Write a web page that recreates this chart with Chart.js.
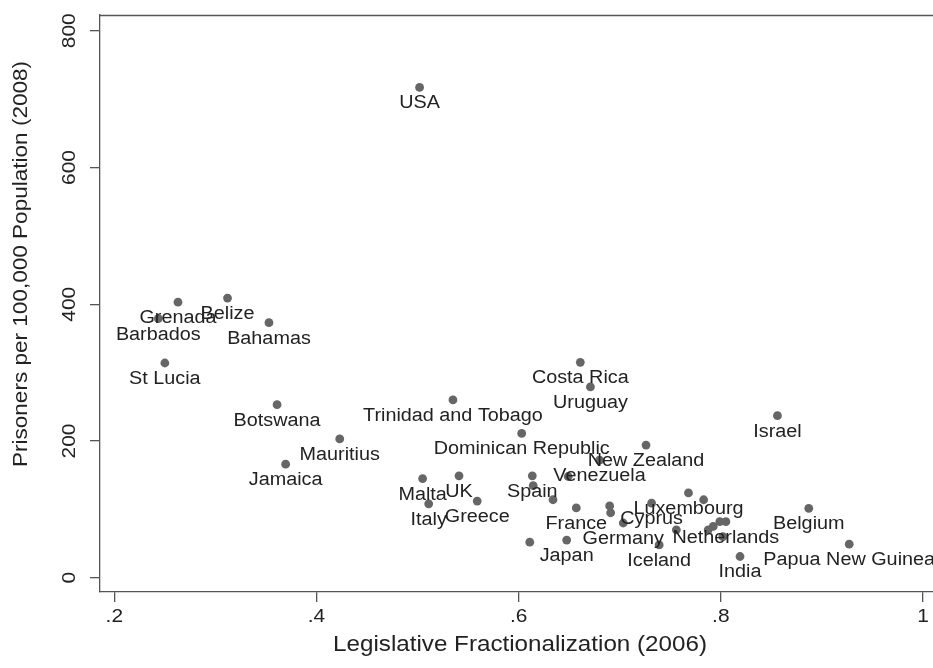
<!DOCTYPE html>
<html>
<head>
<meta charset="utf-8">
<script src="https://cdn.jsdelivr.net/npm/chart.js@4.4.1/dist/chart.umd.min.js"></script>
<style>
  html, body { margin: 0; padding: 0; background: #ffffff; }
  #wrap { width: 933px; height: 668px; }
</style>
</head>
<body>
<div id="wrap"><canvas id="chart" width="933" height="668"></canvas></div>
<script>
// Country names (empty string = plotted without a label)
const countries = [
  'USA', 'Grenada', 'Barbados', 'Belize', 'Bahamas', 'St Lucia', 'Botswana',
  'Mauritius', 'Jamaica', 'Trinidad and Tobago', 'Dominican Republic', 'Malta',
  'UK', 'Italy', 'Greece', 'Spain', 'Costa Rica', 'Uruguay', 'New Zealand',
  'Venezuela', 'France', 'Cyprus', 'Luxembourg', 'Germany', 'Netherlands',
  'Japan', 'Iceland', 'India', 'Israel', 'Belgium', 'Papua New Guinea',
  '', '', '', '', '', '', '', '', '', '', '', ''
];

// Legislative fractionalization, 2006
const fractionalization = [
  0.502, 0.263, 0.2435, 0.312, 0.353, 0.250, 0.361,
  0.423, 0.3695, 0.535, 0.603, 0.505,
  0.541, 0.511, 0.559, 0.6135, 0.661, 0.671, 0.726,
  0.680, 0.657, 0.7315, 0.768, 0.7035, 0.805,
  0.6475, 0.739, 0.819, 0.856, 0.887, 0.927,
  0.6144, 0.634, 0.611, 0.649, 0.690, 0.691, 0.783, 0.799, 0.7925, 0.7875, 0.802, 0.756
];

// Prisoners per 100,000 population, 2008
const prisoners = [
  717, 403, 379, 409, 373, 314, 253,
  203, 166, 260, 211, 145,
  149, 108, 112, 149, 315, 279, 194,
  172, 102, 109, 124, 80, 82,
  55, 48, 31, 237, 101.5, 49,
  134.6, 114, 52, 148, 105, 95, 114, 82, 75, 70, 60, 70
];

const xTicks = [0.2, 0.4, 0.6, 0.8, 1.0];
const xTickLabels = ['.2', '.4', '.6', '.8', '1'];
const yTicks = [0, 200, 400, 600, 800];
const yTickLabels = ['0', '200', '400', '600', '800'];

const xTitle = 'Legislative Fractionalization (2006)';
const yTitle = 'Prisoners per 100,000 Population (2008)';

const FONT = '"Liberation Sans", Arial, Helvetica, sans-serif';
const INK = '#222222';
const AXIS = '#555555';
const STRETCH = 1.1;

function drawText(ctx, text, x, y, size, rot) {
  ctx.save();
  ctx.translate(x, y);
  if (rot) ctx.rotate(rot);
  ctx.scale(STRETCH, 1);
  ctx.font = size + 'px ' + FONT;
  ctx.fillStyle = INK;
  ctx.textAlign = 'center';
  ctx.textBaseline = 'middle';
  ctx.fillText(text, 0, 0);
  ctx.restore();
}

// Point labels set just below each marker
const pointLabels = {
  id: 'pointLabels',
  afterDatasetsDraw(chart) {
    const ctx = chart.ctx;
    const meta = chart.getDatasetMeta(0);
    meta.data.forEach((el, i) => {
      if (countries[i]) drawText(ctx, countries[i], el.x, el.y + 16, 18, 0);
    });
  }
};

// Axis tick labels, titles and the top frame line
const axisText = {
  id: 'axisText',
  afterDraw(chart) {
    const ctx = chart.ctx;
    const xs = chart.scales.x, ys = chart.scales.y;
    const area = chart.chartArea;

    ctx.save();
    ctx.strokeStyle = AXIS;
    ctx.lineWidth = 1.3;
    ctx.beginPath();
    ctx.moveTo(area.left, area.top + 0.5);
    ctx.lineTo(area.right, area.top + 0.5);
    ctx.stroke();
    ctx.restore();

    xTicks.forEach((v, i) => drawText(ctx, xTickLabels[i], xs.getPixelForValue(v), 617, 19, 0));
    yTicks.forEach((v, i) => drawText(ctx, yTickLabels[i], 70, ys.getPixelForValue(v), 19, -Math.PI / 2));

    drawText(ctx, xTitle, 520, 645, 22, 0);
    drawText(ctx, yTitle, 21, 264, 20.5, -Math.PI / 2);
  }
};

const axisCommon = {
  type: 'linear',
  ticks: { display: false },
  grid: { drawOnChartArea: false, drawTicks: true, tickLength: 10, color: AXIS, lineWidth: 1.3 },
  border: { display: true, color: AXIS, width: 1.3 }
};

new Chart(document.getElementById('chart'), {
  type: 'scatter',
  data: {
    datasets: [{
      data: fractionalization.map((x, i) => ({ x: x, y: prisoners[i] })),
      pointRadius: 4.4,
      pointHoverRadius: 4.4,
      pointBackgroundColor: '#666666',
      pointBorderWidth: 0,
      showLine: false
    }]
  },
  options: {
    responsive: false,
    animation: false,
    devicePixelRatio: 1,
    layout: { autoPadding: false, padding: { top: 15, left: 0, right: 0, bottom: 0 } },
    plugins: { legend: { display: false }, tooltip: { enabled: false } },
    scales: {
      x: Object.assign({}, axisCommon, {
        position: 'bottom',
        min: 0.18585,
        max: 1.00989,
        afterBuildTicks: s => { s.ticks = xTicks.map(v => ({ value: v })); },
        afterFit: s => { s.height = 76; }
      }),
      y: Object.assign({}, axisCommon, {
        position: 'left',
        min: -20.92,
        max: 822.96,
        afterBuildTicks: s => { s.ticks = yTicks.map(v => ({ value: v })); },
        afterFit: s => { s.width = 100; }
      })
    }
  },
  plugins: [pointLabels, axisText]
});
</script>
</body>
</html>
